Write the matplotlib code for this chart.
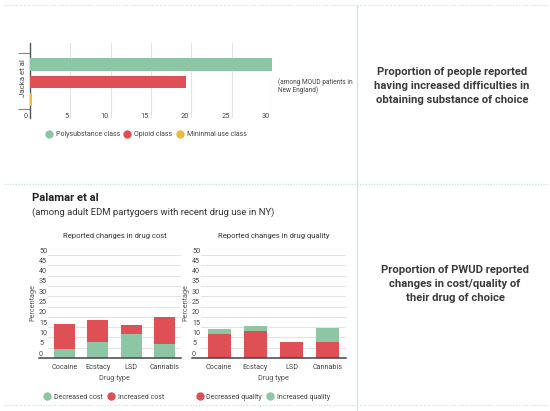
import numpy as np
import matplotlib
matplotlib.use("Agg")
import matplotlib.pyplot as plt
from matplotlib.lines import Line2D
from matplotlib.transforms import ScaledTranslation

# Data
jacka_classes = ["Polysubstance class", "Opioid class", "Mininmal use class"]
jacka_values = [30.3, 19.4, 0.3]

drugs = ["Cocaine", "Ecstacy", "LSD", "Cannabis"]
cost_decreased = [4.5, 7.7, 11.8, 6.6]
cost_increased = [12.1, 10.8, 4.2, 13.2]
quality_decreased = [11.8, 13.1, 7.7, 7.7]
quality_increased = [2.2, 2.5, 0.0, 7.0]

GREEN = "#8dc6a4"
RED = "#df4f56"
YELLOW = "#ecbb3a"
TXT = "#444444"
GRID = "#e3e3e3"
BORDER = "#cfe8df"

W, H = 550, 411
plt.rcParams['font.family'] = ['Roboto', 'DejaVu Sans']

fig = plt.figure(figsize=(W / 100, H / 100), dpi=100)


def rect(l, t, r, b):
    return [l / W, 1 - b / H, (r - l) / W, (b - t) / H]


def ftext(x, y, s, **kw):
    fig.text(x / W, 1 - y / H, s, **kw)


def hline(y, x0, x1):
    fig.add_artist(Line2D([x0 / W, x1 / W], [1 - y / H, 1 - y / H], color=BORDER,
                          lw=1.0, ls=(0, (1, 1)), transform=fig.transFigure))


def vline(x, y0, y1):
    fig.add_artist(Line2D([x / W, x / W], [1 - y0 / H, 1 - y1 / H], color=BORDER,
                          lw=1.0, transform=fig.transFigure))


def shift(labels, dx, dy):
    for lab in labels:
        lab.set_transform(lab.get_transform() + ScaledTranslation(dx / 100, dy / 100, fig.dpi_scale_trans))


def legend(a, colors, names, cx, cy):
    hs = [Line2D([], [], marker='o', ls='', color=c, markersize=5) for c in colors]
    a.legend(hs, names, loc='center', bbox_to_anchor=(cx / W, 1 - cy / H),
             bbox_transform=fig.transFigure, ncol=len(names), frameon=False, fontsize=5,
             handlelength=1.0, handletextpad=0.5, columnspacing=0.6, labelcolor=TXT)


# panel borders
hline(5, 4, 547)
hline(184, 4, 547)
hline(405, 4, 547)
vline(357, 5, 411)

# ---- top: Jacka et al ----
ax = fig.add_axes(rect(30, 43, 272, 118))
ypos = np.arange(len(jacka_values))
ax.barh(ypos, jacka_values, height=0.74, color=[GREEN, RED, YELLOW], zorder=4)
ax.set_xlim(0, 30)
ax.set_ylim(3.057, -1.229)
ax.set_xticks(np.arange(0, 31, 5))
ax.grid(axis='x', color=GRID, lw=0.8, zorder=0)
for s in ['top', 'right', 'bottom']:
    ax.spines[s].set_visible(False)
ax.spines['left'].set_color("#555555")
ax.spines['left'].set_linewidth(1.0)
ax.spines['left'].set_zorder(3)
ax.set_yticks([-0.657, 2.54])
ax.set_yticklabels([])
ax.tick_params(axis='y', length=9, color="#888888", width=0.8)
ax.tick_params(axis='x', length=0, pad=-3.6, labelsize=5.3, labelcolor=TXT)
for lab in ax.get_xticklabels():
    lab.set_ha('right')
shift(ax.get_xticklabels(), -2, 0)
ftext(23, 78, "Jacka et al", rotation=90, ha='center', va='center', fontsize=5.7, color=TXT)
ftext(278, 86, "(among MOUD patients in\nNew England)", ha='left', va='center',
      fontsize=4.7, color=TXT, linespacing=1.0)
legend(ax, [GREEN, RED, YELLOW], jacka_classes, 146, 135)

ftext(452, 86, "Proportion of people reported\nhaving increased difficulties in\nobtaining substance of choice",
      ha='center', va='center', fontsize=8.1, fontweight='bold', color="#3a3a3a", linespacing=1.45)

# ---- bottom: Palamar et al ----
ftext(32, 198, "Palamar et al", ha='left', va='center', fontsize=8.1, fontweight='bold', color="#222222")
ftext(32, 212, "(among adult EDM partygoers with recent drug use in NY)", ha='left', va='center',
      fontsize=6.8, color="#333333")


def stacked(box, bottom_vals, top_vals, bottom_col, top_col, title, names, label_x, ylab_x, leg_x):
    a = fig.add_axes(rect(*box))
    x = np.arange(len(drugs))
    a.bar(x, bottom_vals, width=0.63, color=bottom_col, zorder=2)
    a.bar(x, top_vals, width=0.63, bottom=bottom_vals, color=top_col, zorder=2)
    a.set_xlim(-0.5, len(drugs) - 0.5)
    a.set_ylim(0, 50)
    a.set_yticks(np.arange(0, 51, 5))
    a.set_xticks(x)
    a.set_xticklabels(drugs)
    a.grid(axis='y', color=GRID, lw=0.8, zorder=0)
    for s in a.spines.values():
        s.set_visible(False)
    a.axhline(0, xmin=-(box[0] - label_x) / (box[2] - box[0]), xmax=1, color="#444444",
              lw=1.1, clip_on=False, zorder=3)
    a.tick_params(axis='both', length=0, labelsize=5.2, labelcolor=TXT)
    a.tick_params(axis='x', pad=4)
    a.tick_params(axis='y', pad=(box[0] - label_x) * 0.72)
    for lab in a.get_yticklabels():
        lab.set_ha('left')
        lab.set_va('bottom')
    shift(a.get_yticklabels(), 0, 0.5)
    a.set_xlabel("Drug type", fontsize=5.2, color="#555555", labelpad=3)
    a.set_title(title, fontsize=5.5, color="#333333", pad=12)
    ftext(ylab_x, 303, "Percentage", rotation=90, ha='center', va='center', fontsize=5.2, color="#555555")
    legend(a, [bottom_col, top_col], names, leg_x, 397)
    return a


stacked((48, 255, 181, 358), cost_decreased, cost_increased, GREEN, RED,
        "Reported changes in drug cost", ["Decreased cost", "Increased cost"], 39, 33, 104)
stacked((201, 255, 346, 358), quality_decreased, quality_increased, RED, GREEN,
        "Reported changes in drug quality", ["Decreased quality", "Increased quality"], 192, 186, 263)

ftext(455, 284, "Proportion of PWUD reported\nchanges in cost/quality of\ntheir drug of choice",
      ha='center', va='center', fontsize=8.1, fontweight='bold', color="#3a3a3a", linespacing=1.45)

fig.savefig("out.png", dpi=100)
